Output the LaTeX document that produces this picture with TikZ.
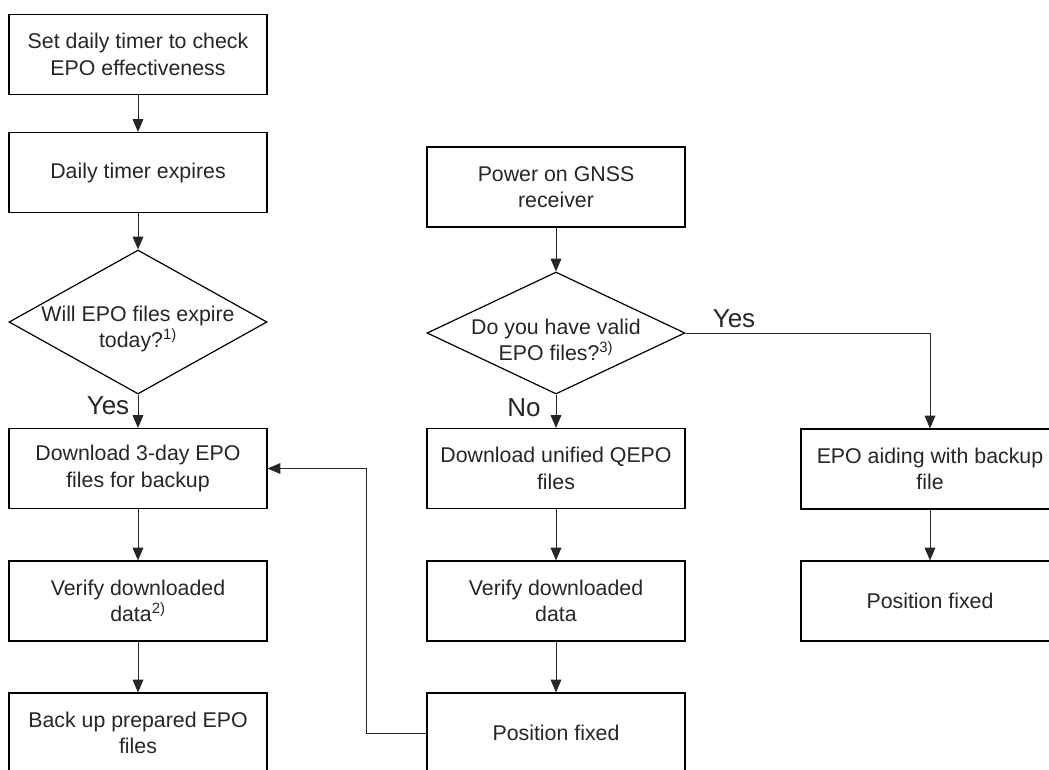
\documentclass[tikz,border=0pt]{standalone}
\usepackage{fontspec}
\setmainfont{Liberation Sans}
\usetikzlibrary{shapes.geometric,arrows.meta}
\definecolor{ink}{HTML}{262626}
\tikzset{
  stepbox/.style={draw=black, line width=0.9pt, rectangle, minimum width=193.5pt,
    minimum height=60pt, inner sep=0pt, align=center, text=ink,
    font=\fontsize{16}{20}\selectfont},
  decision/.style={draw=black, line width=0.9pt, diamond, minimum width=193.5pt,
    inner sep=0pt},
  qtext/.style={align=center, text=ink, font=\fontsize{16}{20}\selectfont},
  branch/.style={text=ink, font=\fontsize{19.5}{22}\selectfont},
  flow/.style={draw=black!85, line width=0.7pt, -{Triangle[length=9.5pt,width=8pt]}},
}
\begin{document}
\begin{tikzpicture}[x=0.75pt, y=-0.75pt]
\useasboundingbox (0,0) rectangle (1049,769);
\clip (0,0) rectangle (1049,769);
\fill[white] (0,0) rectangle (1049,769);

% left column: daily EPO refresh
\node[stepbox] (l1) at (138,54.5) {Set daily timer to check\\EPO effectiveness};
\node[stepbox] (l2) at (138,172.5) {Daily timer expires};
\node[decision, minimum height=108pt] (d1) at (138,322) {};
\node[qtext] (d1t) at (138,329) {Will EPO files expire\\today?\textsuperscript{1)}};
\node[stepbox] (l3) at (138,468.5) {Download 3-day EPO\\files for backup};
\node[stepbox] (l4) at (138,601) {Verify downloaded\\data\textsuperscript{2)}};
\node[stepbox] (l5) at (138,733) {Back up prepared EPO\\files};

% middle column: start-up of the receiver
\node[stepbox] (m1) at (556,187) {Power on GNSS\\receiver};
\node[decision, minimum height=91.5pt] (d2) at (556,333) {};
\node[qtext] (d2t) at (556,340) {Do you have valid\\EPO files?\textsuperscript{3)}};
\node[stepbox] (m3) at (556,468.5) {Download unified QEPO\\files};
\node[stepbox] (m4) at (556,601) {Verify downloaded\\data};
\node[stepbox] (m5) at (556,733) {Position fixed};

% right column: aiding from the backup
\node[stepbox] (r1) at (930,469) {EPO aiding with backup\\file};
\node[stepbox] (r2) at (930,601) {Position fixed};

% branch labels
\node[branch] (yl) at (108,406) {Yes};
\node[branch] (nm) at (524,408) {No};
\node[branch] (yr) at (734,319) {Yes};

% connectors
\draw[flow] (l1) -- (l2);
\draw[flow] (l2) -- (d1.north);
\draw[flow] (d1.south) -- (l3);
\draw[flow] (l3) -- (l4);
\draw[flow] (l4) -- (l5);

\draw[flow] (m1) -- (d2.north);
\draw[flow] (d2.south) -- (m3);
\draw[flow] (m3) -- (m4);
\draw[flow] (m4) -- (m5);

\draw[flow] (d2.east) -| (r1.north);
\draw[flow] (r1) -- (r2);

\coordinate (fb) at (366,468.5);
\draw[flow] (m5.west) -| (fb) -- (l3.east);
\end{tikzpicture}
\end{document}
